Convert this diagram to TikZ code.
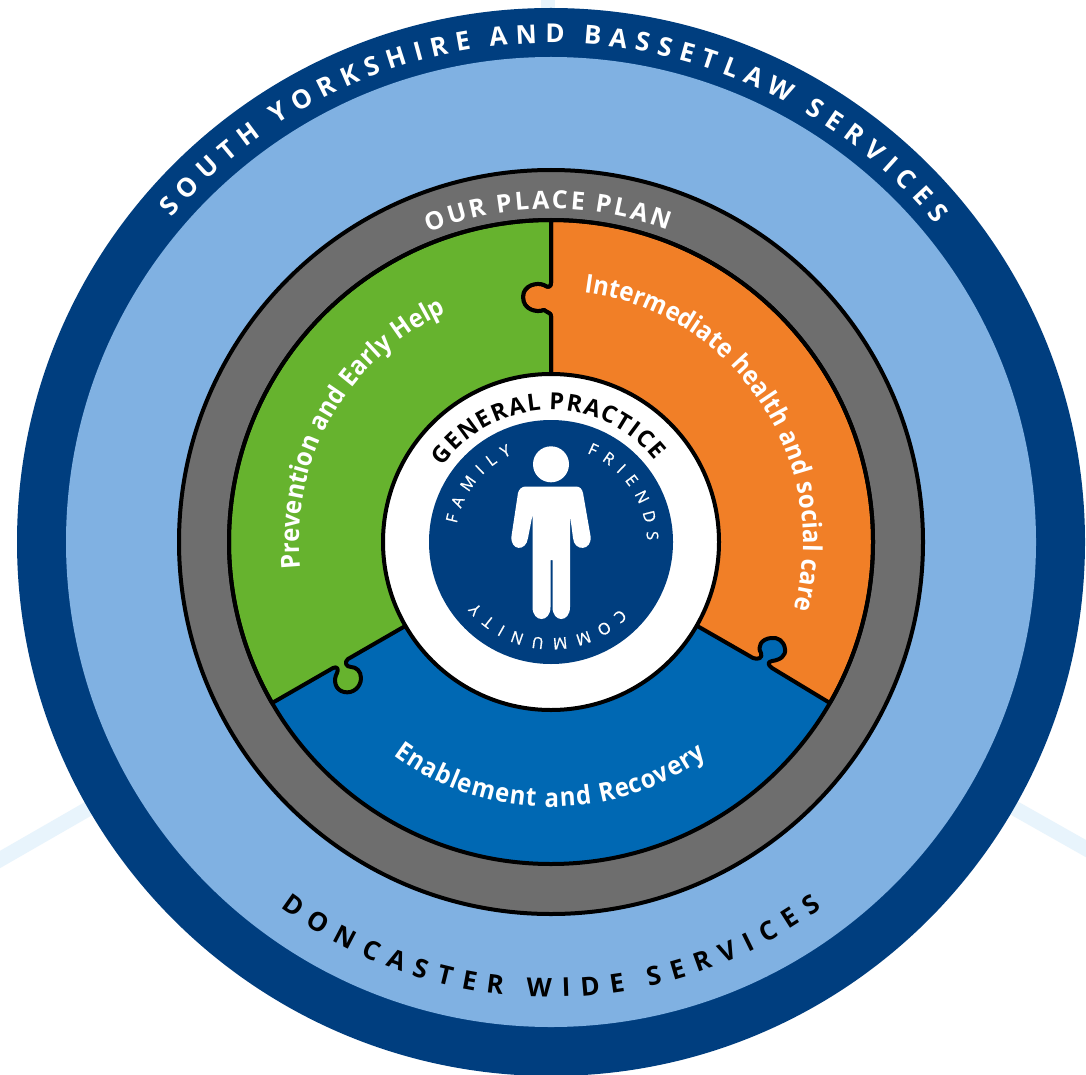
\documentclass[tikz,border=0pt]{standalone}
\usepackage{fontspec}
\setmainfont{Open Sans}[BoldFont={Open Sans Bold}]
\newfontfamily\secfont{Open Sans Bold}[FakeStretch=0.92]
\newfontfamily\tinyfont{Open Sans}[FakeBold=0.6]
\definecolor{navy}{HTML}{003E7F}
\definecolor{skyb}{HTML}{80B1E2}
\definecolor{ringg}{HTML}{6E6E6E}
\definecolor{grn}{HTML}{66B32E}
\definecolor{org}{HTML}{F17F27}
\definecolor{blu}{HTML}{0068B3}
\definecolor{faint}{HTML}{E8F4FC}
\newcommand{\spc}{\hspace*{.1em}}
\newcommand{\msp}{\hspace*{.2em}}
\newcommand{\wsp}{\hspace*{.26em}}
\newlength{\glyphw}
\newlength{\charw}
\newlength{\totw}
\makeatletter
% \arctext{radius}{start angle}{end angle}{colour}{font}{letters}
% angles clockwise from the top; start>end means text runs counter-clockwise with tops inward
\newcommand{\measure}[2]{\settowidth{#1}{\pgfinterruptpicture#2\endpgfinterruptpicture}}
\newcommand{\arctext}[6]{%
  \begingroup
  \gdef\at@pre{}\gdef\at@n{0}%
  \foreach \ch in {#6}{%
    \xdef\at@pre{\unexpanded\expandafter{\at@pre}\unexpanded\expandafter{\ch}}%
    \pgfmathsetmacro{\tmpn}{\at@n+1}\global\let\at@n\tmpn
  }%
  \measure{\totw}{#5\at@pre}%
  \pgfmathsetmacro{\arclen}{abs(#3-#2)*pi/180*#1}%
  \pgfmathsetmacro{\track}{(\arclen-\totw/1pt)/(\at@n-1)}%
  \pgfmathsetmacro{\dirn}{(#3>#2)?1:-1}%
  \gdef\at@pre{}\gdef\at@i{0}%
  \foreach \ch in {#6}{%
    \xdef\at@pre{\unexpanded\expandafter{\at@pre}\unexpanded\expandafter{\ch}}%
    \measure{\glyphw}{#5\at@pre}%
    \measure{\charw}{#5\ch}%
    \pgfmathsetmacro{\ang}{#2+\dirn*(\glyphw/1pt-\charw/2pt+\at@i*\track)/#1*180/pi}%
    \pgfmathsetmacro{\rot}{(\dirn>0)?(-\ang):(180-\ang)}%
    \node[anchor=base,inner sep=0pt,outer sep=0pt,text=#4,font=#5,rotate=\rot]
      at ({551+#1*sin(\ang)},{542-#1*cos(\ang)}) {\ch};
    \pgfmathsetmacro{\tmp}{\at@i+1}\global\let\at@i\tmp
  }%
  \endgroup
}
\makeatother
\tikzset{seam/.style={line width=4pt,line join=round,line cap=round,draw=black}}
\begin{document}
\begin{tikzpicture}[x=1pt,y=-1pt]
\useasboundingbox (0,0) rectangle (1086,1075);
\coordinate (c) at (551,542);
\fill[white] (0,0) rectangle (1086,1075);
\draw[faint,line width=14pt] (548,30) -- (548,-10);
\draw[faint,line width=15pt] (100,802) -- (-20,871);
\draw[faint,line width=15pt] (1000,800) -- (1122,869);
\fill[navy] (c) circle[radius=534];
\fill[skyb] (c) circle[radius=485];
\fill[ringg] (c) circle[radius=372];
\draw[black,line width=4pt] (c) circle[radius=372];
% sectors
\fill[blu] (c) circle[radius=322];
\filldraw[seam,fill=org] (551,220) arc[start angle=-90,end angle=30,radius=322]
  -- (772,668) .. controls (768,665) and (767,662) .. (772,661)
  .. controls (780,660) and (786,656) .. (785,649)
  .. controls (784,641) and (778,637) .. (771,638)
  .. controls (761,639) and (757,647) .. (761,653)
  .. controls (763,658) and (758,660) .. (753,658)
  -- (551,542) -- (551,316)
  .. controls (551,313) and (548,313) .. (544,310)
  .. controls (537,313) and (523,310) .. (523,297)
  .. controls (523,285) and (537,282) .. (544,285)
  .. controls (548,288) and (551,287) .. (551,283)
  -- cycle;
\filldraw[seam,fill=grn] (551,220) arc[start angle=-90,end angle=-210,radius=322]
  -- (333,668) .. controls (337,666) and (339,669) .. (337,673)
  .. controls (333,680) and (335,690) .. (344,692)
  .. controls (353,694) and (361,687) .. (361,678)
  .. controls (361,671) and (356,667) .. (351,667)
  .. controls (346,667) and (344,662) .. (348,659)
  -- (551,542) -- (551,316)
  .. controls (551,313) and (548,313) .. (544,310)
  .. controls (537,313) and (523,310) .. (523,297)
  .. controls (523,285) and (537,282) .. (544,285)
  .. controls (548,288) and (551,287) .. (551,283)
  -- cycle;
\draw[black,line width=4pt] (c) circle[radius=322];
% hub
\filldraw[fill=white,draw=black,line width=4pt] (c) circle[radius=168];
\fill[navy] (c) circle[radius=122];
% person
\fill[white] (551,464.3) circle[radius=18];
\fill[white] (526,486.5) -- (576,486.5)
  .. controls (580,486.5) and (582,489) .. (583,493)
  -- (590.5,536)
  .. controls (592.5,551) and (574,552) .. (573,538)
  -- (570,515) -- (570,607)
  .. controls (570,623) and (552.5,623) .. (552.5,607)
  -- (552.5,560) -- (550.5,560) -- (550.5,607)
  .. controls (550.5,623) and (532.5,623) .. (532.5,607)
  -- (532.5,515) -- (528,538)
  .. controls (526,552) and (510,551) .. (511.5,536)
  -- (518,493) .. controls (519,489) and (522,486.5) .. (526,486.5) -- cycle;
% ring texts
\arctext{499}{-49.5}{50.5}{white}{\fontsize{26}{26}\selectfont\bfseries}{S,O,U,T,H,\spc,Y,O,R,K,S,H,I,R,E,\spc,A,N,D,\spc,B,A,S,S,E,T,L,A,W,\spc,S,E,R,V,I,C,E,S}
\arctext{455}{216.5}{143.5}{black}{\fontsize{26}{26}\selectfont\bfseries}{D,O,N,C,A,S,T,E,R,\spc,W,I,D,E,\spc,S,E,R,V,I,C,E,S}
\arctext{333}{-21.5}{20.5}{white}{\fontsize{25}{25}\selectfont\bfseries}{O,U,R,\msp,P,L,A,C,E,\msp,P,L,A,N}
\arctext{132}{-55}{52}{black}{\fontsize{23.5}{24}\selectfont\bfseries}{G,E,N,E,R,A,L,\msp,P,R,A,C,T,I,C,E}
\arctext{96}{-79}{-24}{white}{\tinyfont\fontsize{16}{16}\selectfont}{F,A,M,I,L,Y}
\arctext{96}{22}{89}{white}{\tinyfont\fontsize{16}{16}\selectfont}{F,R,I,E,N,D,S}
\arctext{96}{134}{231}{white}{\tinyfont\fontsize{16}{16}\selectfont}{C,O,M,M,U,N,I,T,Y}
% sector texts
\arctext{252}{-96}{-24.5}{white}{\secfont\fontsize{26}{26}\selectfont}{P,r,e,v,e,n,t,i,o,n,\wsp,a,n,d,\wsp,E,a,r,l,y,\wsp,H,e,l,p}
\arctext{252}{7.5}{105.5}{white}{\secfont\fontsize{26}{26}\selectfont}{I,n,t,e,r,m,e,d,i,a,t,e,\wsp,h,e,a,l,t,h,\wsp,a,n,d,\wsp,s,o,c,i,a,l,\wsp,c,a,r,e}
\arctext{265}{216.5}{144}{white}{\secfont\fontsize{26}{26}\selectfont}{E,n,a,b,l,e,m,e,n,t,\wsp,a,n,d,\wsp,R,e,c,o,v,e,r,y}
\end{tikzpicture}
\end{document}
